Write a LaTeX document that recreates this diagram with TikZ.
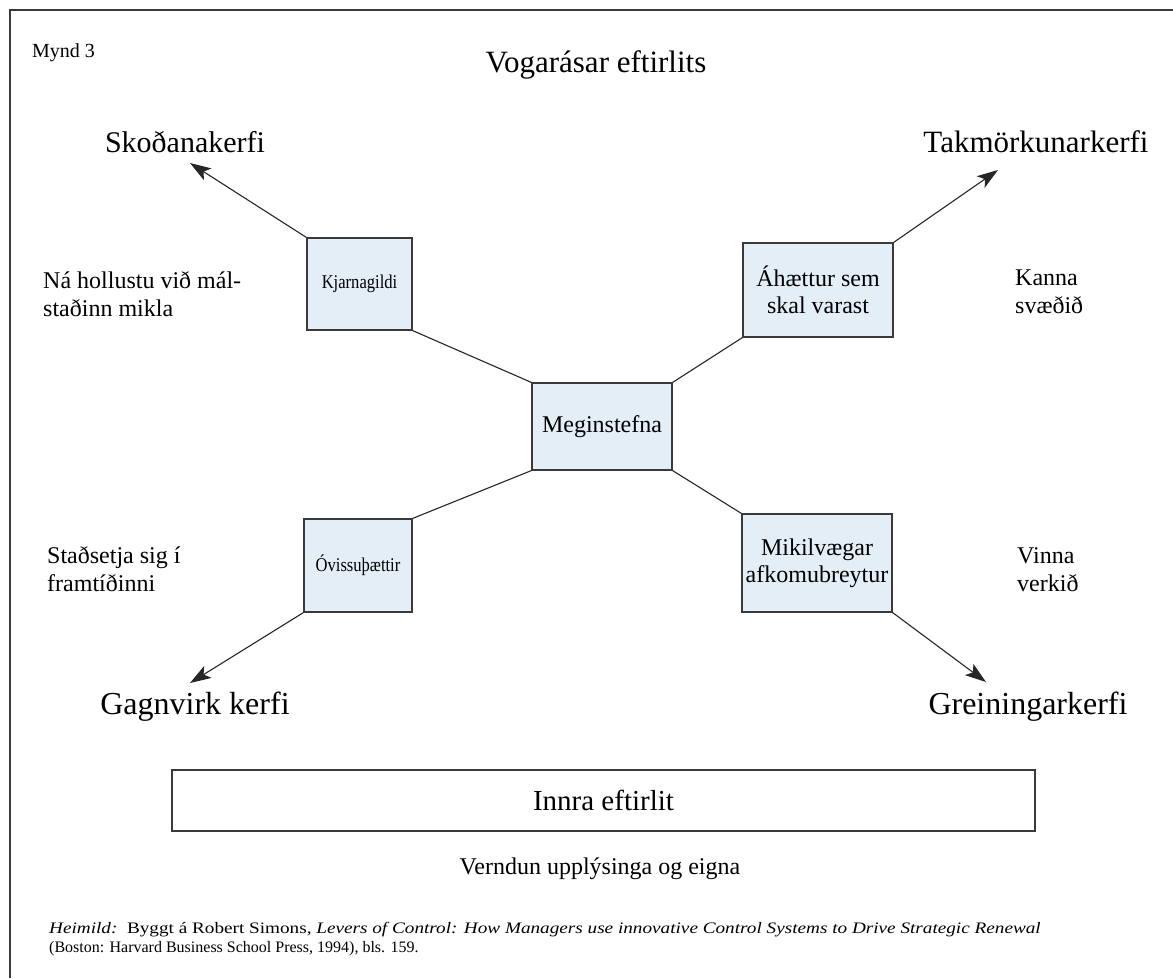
\documentclass[tikz,border=0pt]{standalone}
\usepackage{fontspec}
\setmainfont{Liberation Serif}
\usetikzlibrary{arrows.meta}
\definecolor{boxfill}{HTML}{E3EEF6}
\definecolor{edge}{HTML}{3A3A3A}
\begin{document}
\begin{tikzpicture}[x=1pt,y=-1pt,
  box/.style={draw=edge,fill=boxfill,line width=1.1pt,inner sep=0pt,align=center,font=\fontsize{24}{27}\selectfont},
  sbox/.style={box,font=\fontsize{19.5}{23}\selectfont},
  big/.style={font=\fontsize{30}{34}\selectfont,anchor=base,inner sep=0pt},
  bigb/.style={big,font=\fontsize{32}{36}\selectfont},
  side/.style={font=\fontsize{24}{28}\selectfont,anchor=base west,align=left,inner sep=0pt},
  foot/.style={font=\fontsize{16}{19}\selectfont,anchor=base west,inner sep=0pt},
  conn/.style={draw=black!85,line width=1.1pt},
  arr/.style={conn,-{Stealth[length=21pt,width=14pt,inset=5pt]}}]
\useasboundingbox (0,0) rectangle (1173,978);
\fill[white] (0,0) rectangle (1173,978);
% frame
\draw[edge,line width=1.2pt] (10,978) -- (10,10) -- (1173,10);
% headings
\node[font=\fontsize{20}{24}\selectfont,anchor=base west,inner sep=0pt] (mynd) at (32,57) {Mynd 3};
\node[font=\fontsize{31}{35}\selectfont,anchor=base,inner sep=0pt] (title) at (596,72) {Vogarásar eftirlits};
% corner labels
\node[big] (sko) at (185,152) {Skoðanakerfi};
\node[big,font=\fontsize{31}{35}\selectfont] (tak) at (1036,152) {Takmörkunarkerfi};
\node[bigb] (gag) at (195,714) {Gagnvirk kerfi};
\node[bigb] (gre) at (1028,714) {Greiningarkerfi};
% side texts (base = last line)
\node[side] (na) at (43,316) {Ná hollustu við mál-\\staðinn mikla};
\node[side] (sta) at (47,591) {Staðsetja sig í\\framtíðinni};
\node[side] (kan) at (1015,313) {Kanna\\svæðið};
\node[side] (vin) at (1017,591) {Vinna\\verkið};
% boxes
\node[sbox,minimum width=105pt,minimum height=92pt] (kj) at (359.5,284) {\scalebox{0.85}[1]{Kjarnagildi}};
\node[box,minimum width=150pt,minimum height=94pt] (aha) at (818,290) {Áhættur sem\\skal varast};
\node[box,minimum width=140pt,minimum height=87pt] (meg) at (602,426.5) {Meginstefna};
\node[sbox,minimum width=108pt,minimum height=93pt] (ovi) at (358,565.5) {\scalebox{0.85}[1]{Óvissuþættir}};
\node[box,minimum width=150pt,minimum height=98pt] (mik) at (817,563) {Mikilvægar\\afkomubreytur};
% arrow ends
\coordinate (skoT) at (190,163);
\coordinate (takT) at (998,170);
\coordinate (gagT) at (190,683);
\coordinate (greT) at (986,682);
% connectors
\draw[conn] (kj.south east) -- (meg.north west);
\draw[conn] (aha.south west) -- (meg.north east);
\draw[conn] (meg.south west) -- (ovi.north east);
\draw[conn] (meg.south east) -- (mik.north west);
\draw[arr] (kj.north west) -- (skoT);
\draw[arr] (aha.north east) -- (takT);
\draw[arr] (ovi.south west) -- (gagT);
\draw[arr] (mik.south east) -- (greT);
% bottom
\node[draw=edge,line width=1.1pt,minimum width=863pt,minimum height=61pt,inner sep=0pt,font=\fontsize{29}{33}\selectfont] (inn) at (603.5,800.5) {Innra eftirlit};
\node[font=\fontsize{24}{28}\selectfont,anchor=base,inner sep=0pt] (ver) at (600,874) {Verndun upplýsinga og eigna};
\node[foot] (hei1) at (49,933) {\scalebox{1.2}[1]{\textit{Heimild:}\ \ Byggt á Robert Simons, \textit{Levers of Control: How Managers use innovative Control Systems to Drive Strategic Renewal}}};
\node[foot] (hei2) at (49,952) {(Boston: Harvard Business School Press, 1994), bls. 159.};
\end{tikzpicture}
\end{document}
